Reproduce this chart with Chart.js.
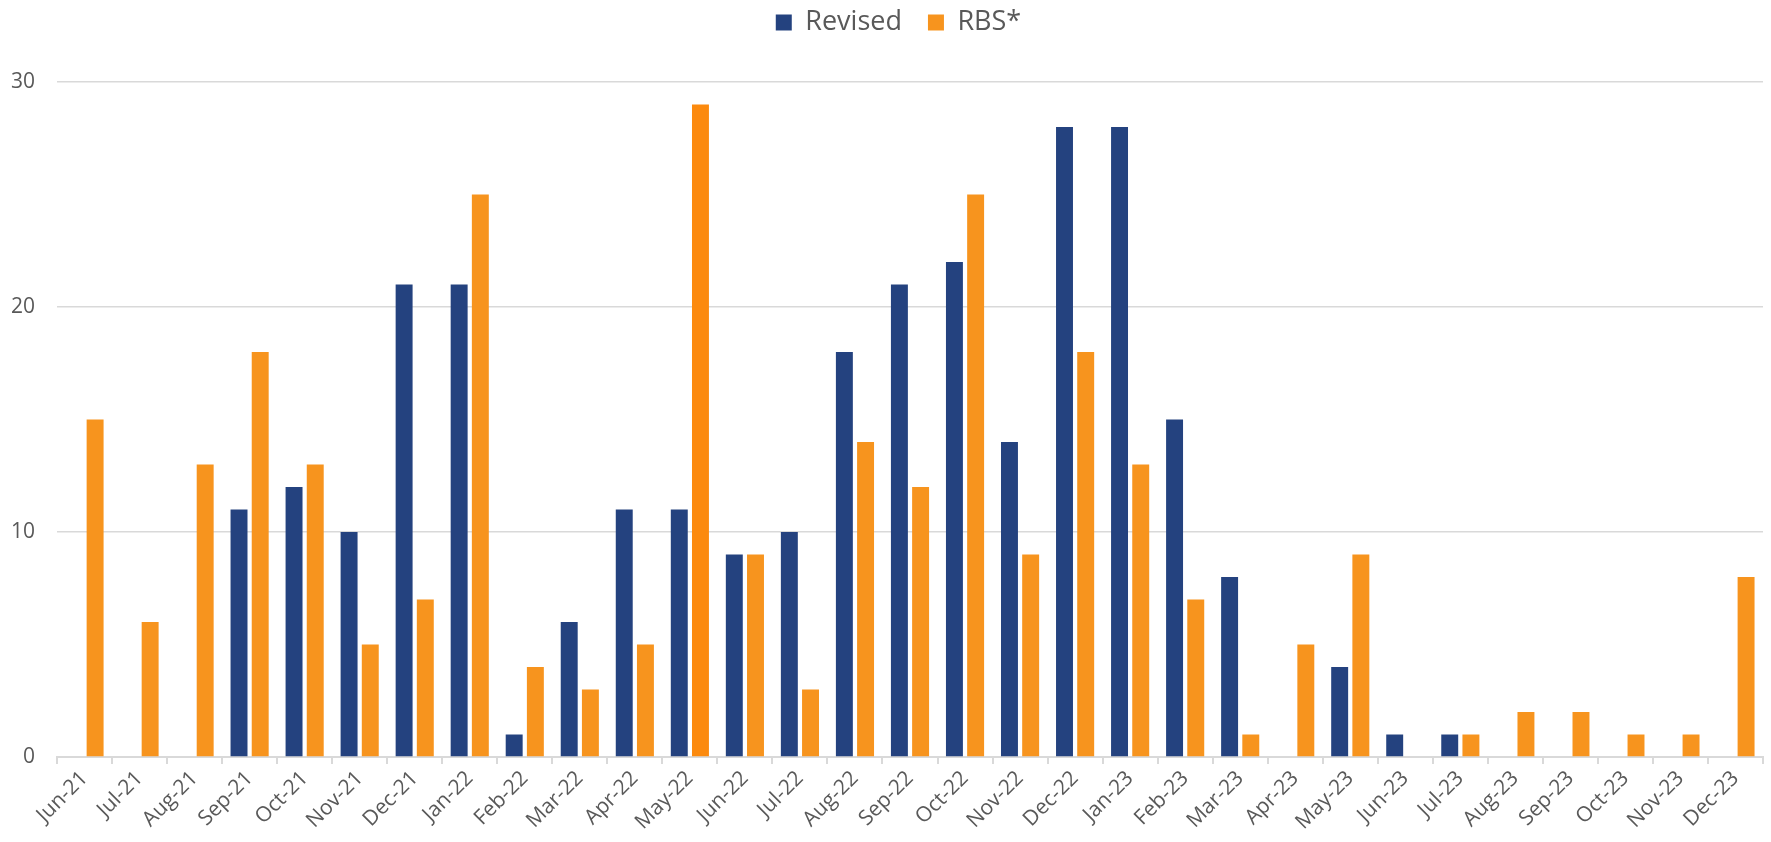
<!DOCTYPE html>
<html>
<head>
<meta charset="utf-8">
<script src="https://cdn.jsdelivr.net/npm/chart.js@4.4.1/dist/chart.umd.min.js"></script>
<style>
  html, body { margin: 0; padding: 0; background: #ffffff; }
  #wrap { width: 1771px; height: 842px; position: relative; }
</style>
</head>
<body>
<div id="wrap"><canvas id="c" width="1771" height="842"></canvas></div>
<script>
const categories = ["Jun-21","Jul-21","Aug-21","Sep-21","Oct-21","Nov-21","Dec-21","Jan-22","Feb-22","Mar-22","Apr-22","May-22","Jun-22","Jul-22","Aug-22","Sep-22","Oct-22","Nov-22","Dec-22","Jan-23","Feb-23","Mar-23","Apr-23","May-23","Jun-23","Jul-23","Aug-23","Sep-23","Oct-23","Nov-23","Dec-23"];
const revised = [0,0,0,11,12,10,21,21,1,6,11,11,9,10,18,21,22,14,28,28,15,8,0,4,1,1,0,0,0,0,0];
const rbs = [15,6,13,18,13,5,7,25,4,3,5,29,9,3,14,12,25,9,18,13,7,1,5,9,0,1,2,2,1,1,8];
const yTicks = [0,10,20,30];

const BLUE = "#24427F";
const ORANGE = "#F7941E";
const ORANGE_HI = "#FC8A0E";
const rbsColors = categories.map((c) => c === "May-22" ? ORANGE_HI : ORANGE);

const FONT = "'Open Sans', Lato, 'DejaVu Sans', sans-serif";

const legendGap = {
  id: "legendGap",
  beforeInit(chart) {
    const lg = chart.legend;
    const origFit = lg.fit;
    lg.fit = function () {
      origFit.bind(lg)();
      this.height += 39;
    };
    const origDraw = lg.draw;
    lg.draw = function () {
      const ctx = chart.ctx;
      ctx.save();
      ctx.translate(17, 3);
      origDraw.bind(lg)();
      ctx.restore();
    };
  }
};

new Chart(document.getElementById("c"), {
  type: "bar",
  data: {
    labels: categories,
    datasets: [
      { label: "Revised", data: revised, backgroundColor: BLUE, borderWidth: 0,
        categoryPercentage: 0.77, barPercentage: 0.80 },
      { label: "RBS*", data: rbs, backgroundColor: rbsColors, borderWidth: 0,
        categoryPercentage: 0.77, barPercentage: 0.80 }
    ]
  },
  plugins: [legendGap],
  options: {
    responsive: false,
    animation: false,
    devicePixelRatio: 1,
    layout: { padding: { left: 0, right: 8, top: -20, bottom: 0 } },
    plugins: {
      legend: {
        position: "top",
        align: "center",
        labels: {
          boxWidth: 16, boxHeight: 16, padding: 26,
          color: "#595959",
          font: { family: FONT, size: 27 },
          generateLabels: (chart) => chart.data.datasets.map((ds, i) => ({
            text: ds.label,
            fillStyle: i === 0 ? BLUE : ORANGE,
            strokeStyle: i === 0 ? BLUE : ORANGE,
            lineWidth: 0,
            datasetIndex: i,
            fontColor: "#595959"
          }))
        }
      },
      tooltip: { enabled: false }
    },
    scales: {
      x: {
        offset: true,
        grid: { display: true, offset: true, drawOnChartArea: false, drawTicks: true, tickLength: 7, color: "#d9d9d9", lineWidth: 2 },
        border: { display: true, color: "#d9d9d9", width: 2 },
        ticks: { color: "#595959", font: { family: FONT, size: 21 }, maxRotation: 45, minRotation: 45, autoSkip: false, padding: 2 },
        afterFit: (axis) => { axis.height = 85; }
      },
      y: {
        min: 0, max: 30,
        afterBuildTicks: (axis) => { axis.ticks = yTicks.map(v => ({ value: v })); },
        grid: { color: "#d9d9d9", lineWidth: 1.5, drawTicks: false },
        border: { display: false },
        ticks: { color: "#595959", font: { family: FONT, size: 21 }, padding: 22 },
        afterFit: (axis) => { axis.width = 57; }
      }
    }
  }
});
</script>
</body>
</html>
